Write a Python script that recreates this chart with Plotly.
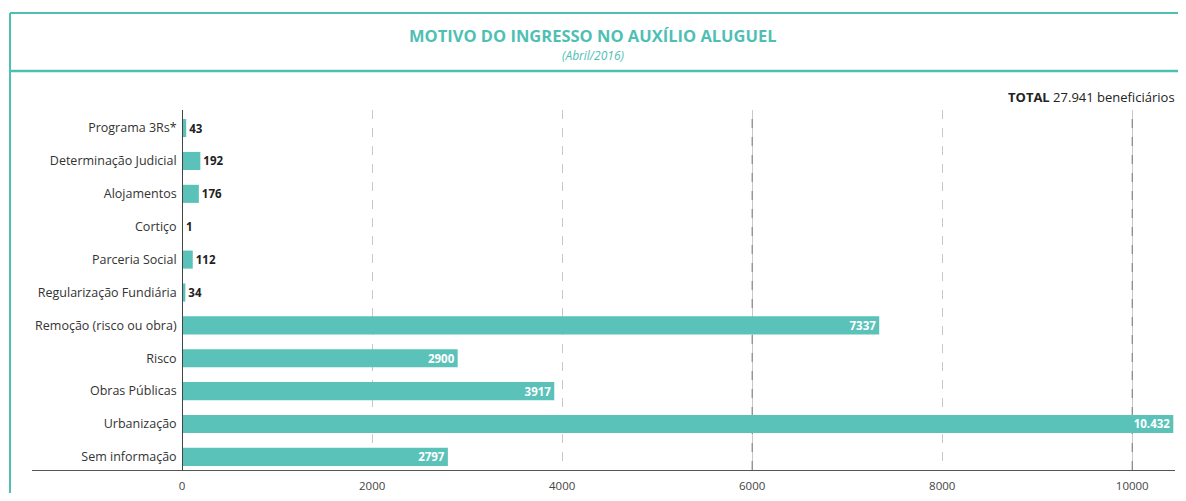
import plotly.graph_objects as go

categories = ["Programa 3Rs*", "Determinação Judicial", "Alojamentos", "Cortiço",
              "Parceria Social", "Regularização Fundiária", "Remoção (risco ou obra)",
              "Risco", "Obras Públicas", "Urbanização", "Sem informação"]
values = [43, 192, 176, 1, 112, 34, 7337, 2900, 3917, 10432, 2797]
labels = ["43", "192", "176", "1", "112", "34", "7337", "2900", "3917", "10.432", "2797"]
x_ticks = [0, 2000, 4000, 6000, 8000, 10000]

TEAL = "#5BC2BA"
TITLE_TEAL = "#4FBFB4"
FONT = "Open Sans"

OFF = 8  # page body margin
W, H = 1186 - 2 * OFF, 501 - 2 * OFF
# reference pixel positions of plot area
PL, PR, PT, PB = 32, 1175, 110, 470
ML, MR, MT, MB = PL - OFF, (W + OFF) - PR, PT - OFF, (H + OFF) - PB
XMIN, XMAX = -1580, 10450


def px_x(p):
    return (p - PL) / (PR - PL)


def px_y(p):
    return (PB - p) / (PB - PT)


inside = [v > 1000 for v in values]
positions = ["inside" if i else "outside" for i in inside]

fig = go.Figure(go.Bar(
    x=values, y=categories, orientation="h",
    marker=dict(color=TEAL, line=dict(width=0)),
    text=labels, textposition=positions,
    insidetextanchor="end",
    insidetextfont=dict(family=FONT, size=11.5, color="white", weight="bold"),
    outsidetextfont=dict(family=FONT, size=11.5, color="#222222", weight="bold"),
    constraintext="none",
    cliponaxis=False,
    hoverinfo="skip",
))

fig.update_layout(
    width=W, height=H,
    margin=dict(l=ML, r=MR, t=MT, b=MB, pad=0, autoexpand=False),
    plot_bgcolor="white", paper_bgcolor="white",
    bargap=0.45,
    showlegend=False,
    font=dict(family=FONT, size=12, color="#333333"),
)

fig.update_xaxes(
    range=[XMIN, XMAX], tickvals=x_ticks, ticktext=[str(t) for t in x_ticks],
    showgrid=True, gridcolor="#c8c8c8", griddash="dash", gridwidth=1,
    zeroline=False, showline=True, linecolor="#555555", linewidth=1,
    ticks="", ticklabelstandoff=5, automargin=False,
    tickfont=dict(family=FONT, size=11.5, color="#444444"),
)

fig.update_yaxes(
    type="category", categoryorder="array", categoryarray=categories,
    range=[10.4, -0.55],
    anchor="free", position=(0 - XMIN) / (XMAX - XMIN),
    showline=True, linecolor="#444444", linewidth=1,
    showgrid=False, zeroline=False, ticks="", ticklabelstandoff=3, automargin=False,
    tickfont=dict(family=FONT, size=12.5, color="#333333"),
)

shapes = []
for gx in [6000, 10000]:
    shapes.append(dict(type="line", xref="x", yref="paper", x0=gx, x1=gx, y0=0, y1=1,
                       line=dict(color="#666666", width=1, dash="dash"), layer="below"))
# frame
shapes.append(dict(type="line", xref="paper", yref="paper", x0=px_x(10), x1=px_x(1183),
                   y0=px_y(13), y1=px_y(13), line=dict(color=TITLE_TEAL, width=2)))
shapes.append(dict(type="line", xref="paper", yref="paper", x0=px_x(10), x1=px_x(1183),
                   y0=px_y(71), y1=px_y(71), line=dict(color=TITLE_TEAL, width=2.5)))
shapes.append(dict(type="line", xref="paper", yref="paper", x0=px_x(10), x1=px_x(10),
                   y0=px_y(13), y1=px_y(505), line=dict(color=TITLE_TEAL, width=2)))
shapes.append(dict(type="line", xref="paper", yref="paper", x0=px_x(1183), x1=px_x(1183),
                   y0=px_y(13), y1=px_y(505), line=dict(color=TITLE_TEAL, width=2)))
fig.update_layout(shapes=shapes)

fig.add_annotation(xref="paper", yref="paper", x=px_x(593), y=px_y(35),
                   text="<b>MOTIVO DO INGRESSO NO AUXÍLIO ALUGUEL</b>", showarrow=False,
                   font=dict(family=FONT, size=16.5, color=TITLE_TEAL), xanchor="center", yanchor="middle")
fig.add_annotation(xref="paper", yref="paper", x=px_x(593), y=px_y(55),
                   text="<i>(Abril/2016)</i>", showarrow=False,
                   font=dict(family=FONT, size=12, color=TITLE_TEAL), xanchor="center", yanchor="middle")
fig.add_annotation(xref="paper", yref="paper", x=px_x(1177), y=px_y(97),
                   text="<b>TOTAL</b> 27.941 beneficiários", showarrow=False,
                   font=dict(family=FONT, size=13, color="#222222"), xanchor="right", yanchor="middle")

fig.write_html("out.html")
